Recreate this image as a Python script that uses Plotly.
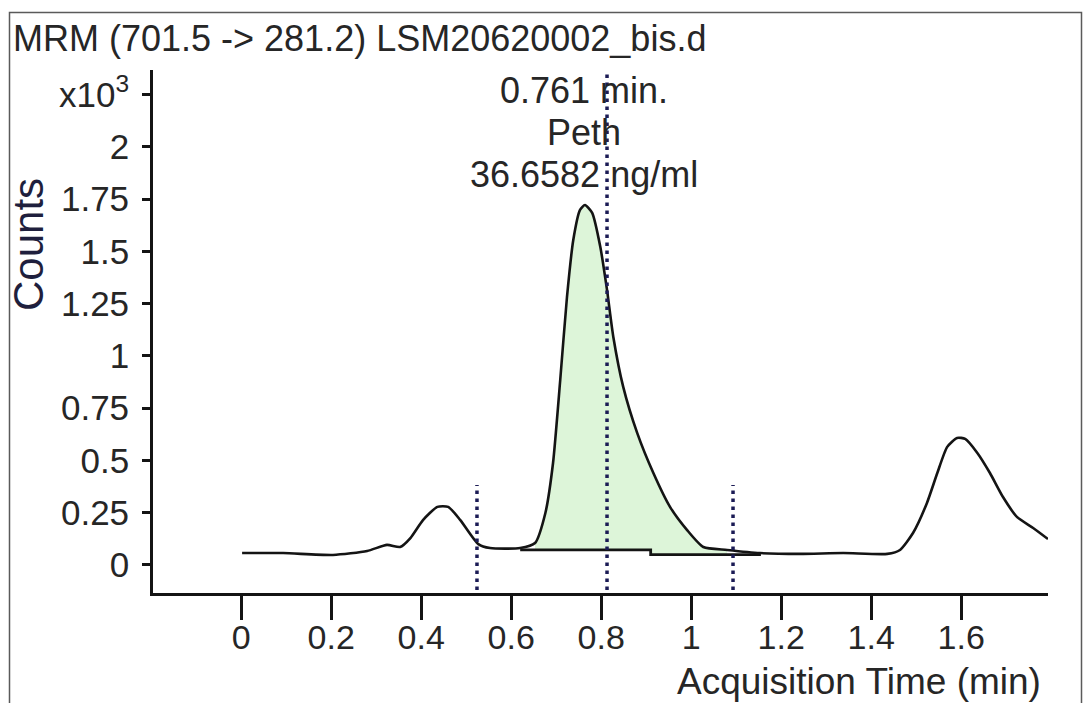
import plotly.graph_objects as go

# ---- data ----
time_min = [0.002, 0.093, 0.204, 0.280, 0.324, 0.353, 0.376, 0.404, 0.436, 0.460,
            0.487, 0.527, 0.553, 0.620, 0.653, 0.676, 0.693, 0.709, 0.724, 0.738,
            0.753, 0.764, 0.780, 0.798, 0.813, 0.827, 0.849, 0.880, 0.916, 0.953,
            0.991, 1.027, 1.080, 1.153, 1.242, 1.338, 1.436, 1.464, 1.493, 1.524,
            1.547, 1.569, 1.591, 1.609, 1.636, 1.664, 1.693, 1.724, 1.760, 1.793]
counts_k = [0.057, 0.057, 0.048, 0.067, 0.096, 0.086, 0.129, 0.215, 0.278, 0.278,
            0.215, 0.100, 0.081, 0.081, 0.105, 0.249, 0.488, 0.885, 1.282, 1.555,
            1.699, 1.722, 1.684, 1.522, 1.316, 1.091, 0.852, 0.632, 0.440, 0.278,
            0.167, 0.086, 0.072, 0.057, 0.053, 0.057, 0.053, 0.072, 0.153, 0.297,
            0.440, 0.565, 0.608, 0.603, 0.536, 0.440, 0.325, 0.230, 0.177, 0.124]

baseline_t = [0.620, 0.910, 1.155]
baseline_y = [0.072, 0.050, 0.050]

fill_start = 0.653
fill_end = 1.080

marker_t = [0.524, 0.813, 1.093]
marker_top = [0.383, 2.35, 0.383]
marker_bottom = -0.12

x_ticks = [0, 0.2, 0.4, 0.6, 0.8, 1.0, 1.2, 1.4, 1.6]
x_tick_labels = ["0", "0.2", "0.4", "0.6", "0.8", "1", "1.2", "1.4", "1.6"]
y_ticks = [0, 0.25, 0.5, 0.75, 1.0, 1.25, 1.5, 1.75, 2.0, 2.25]
y_tick_labels = ["0", "0.25", "0.5", "0.75", "1", "1.25", "1.5", "1.75", "2", "x10<sup>3</sup>"]

title_text = "MRM (701.5 -> 281.2) LSM20620002_bis.d"
peak_rt = 0.761
peak_lines = ["0.761 min.", "Peth", "36.6582 ng/ml"]
peak_line_y = [2.27, 2.07, 1.87]

FONT = "Liberation Sans, Arial, sans-serif"
TXT = "#262626"

fig = go.Figure()

# integrated peak area (light green)
fx = [t for t in time_min if fill_start <= t <= fill_end]
fy = [c for t, c in zip(time_min, counts_k) if fill_start <= t <= fill_end]
poly_x = fx + [fill_end, baseline_t[1], baseline_t[1], fill_start]
poly_y = fy + [baseline_y[2], baseline_y[2], baseline_y[0], baseline_y[0]]
fig.add_trace(go.Scatter(x=poly_x, y=poly_y, mode="lines", fill="toself",
                         fillcolor="#ddf5d9", line=dict(width=0), hoverinfo="skip",
                         showlegend=False))

# chromatogram
fig.add_trace(go.Scatter(x=time_min, y=counts_k, mode="lines",
                         line=dict(color="#141414", width=2.6, shape="spline", smoothing=0.6),
                         showlegend=False))

# integration baseline
fig.add_trace(go.Scatter(x=baseline_t, y=baseline_y, mode="lines",
                         line=dict(color="#141414", width=2.8, shape="hv"),
                         showlegend=False))

# dotted marker lines
for t, top in zip(marker_t, marker_top):
    fig.add_trace(go.Scatter(x=[t, t], y=[marker_bottom, top], mode="lines",
                             line=dict(color="#1b1b55", width=3.5, dash="3.5px,4.5px"),
                             showlegend=False))

annotations = []
for txt, yy in zip(peak_lines, peak_line_y):
    annotations.append(dict(x=peak_rt, y=yy, xref="x", yref="y", text=txt,
                            showarrow=False, xanchor="center", yanchor="middle",
                            font=dict(family=FONT, size=36, color=TXT)))

L, R, T, B = 153, 1048, 70, 593
PW, PH = R - L, B - T

def px(xp):
    return (xp - L) / PW

def py(yp):
    return (B - yp) / PH

annotations.append(dict(x=px(11), y=py(38), xref="paper", yref="paper", text=title_text,
                        showarrow=False, xanchor="left", yanchor="middle",
                        font=dict(family=FONT, size=36, color=TXT)))
annotations.append(dict(x=px(28), y=py(245), xref="paper", yref="paper", text="Counts",
                        showarrow=False, xanchor="center", yanchor="middle", textangle=-90,
                        font=dict(family=FONT, size=42, color="#1f1f3d")))
annotations.append(dict(x=px(1043), y=py(681), xref="paper", yref="paper",
                        text="Acquisition Time (min)",
                        showarrow=False, xanchor="right", yanchor="middle",
                        font=dict(family=FONT, size=37, color=TXT)))

fig.update_layout(
    width=1087, height=703,
    margin=dict(l=L, r=1087 - R, t=T, b=703 - B),
    paper_bgcolor="white", plot_bgcolor="white",
    annotations=annotations,
    shapes=[dict(type="rect", xref="paper", yref="paper",
                 x0=px(9.5), x1=px(1081.5), y0=py(740), y1=py(12.5),
                 line=dict(color="#5a5a5a", width=1.5), fillcolor="rgba(0,0,0,0)",
                 layer="below")],
)
fig.update_xaxes(range=[-0.196, 1.793], tickmode="array", tickvals=x_ticks,
                 ticktext=x_tick_labels, ticks="outside", ticklen=24, tickwidth=2.5,
                 tickcolor="#141414", showline=True, linewidth=2.8, linecolor="#141414",
                 showgrid=False, zeroline=False, ticklabelstandoff=-12,
                 tickfont=dict(family=FONT, size=34, color=TXT))
fig.update_yaxes(range=[-0.134, 2.368], tickmode="array", tickvals=y_ticks,
                 ticktext=y_tick_labels, ticks="outside", ticklen=8, tickwidth=2.5,
                 tickcolor="#141414", showline=True, linewidth=2.8, linecolor="#141414",
                 showgrid=False, zeroline=False, ticklabelstandoff=6,
                 tickfont=dict(family=FONT, size=35, color=TXT))

fig.write_html("out.html", config={"displayModeBar": False},
               post_script="document.body.style.margin='0';document.body.style.overflow='hidden';")
